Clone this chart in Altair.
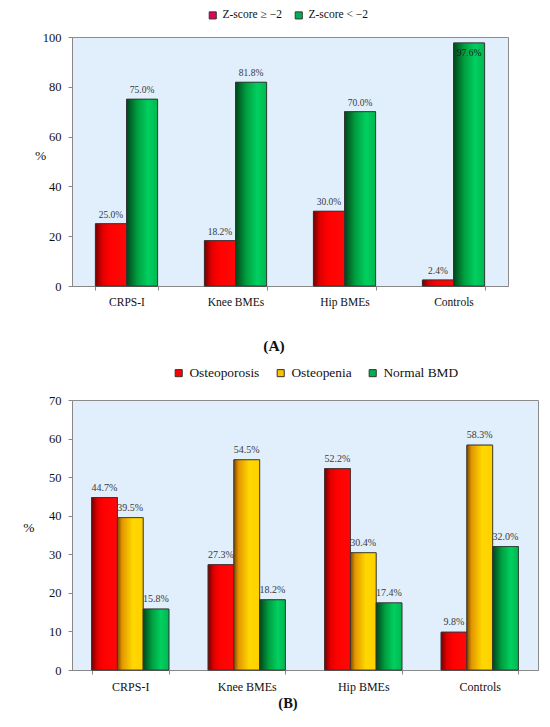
import altair as alt
import pandas as pd

categories = ["CRPS-I", "Knee BMEs", "Hip BMEs", "Controls"]

# Panel A
a_series = ["Z-score \u2265 \u22122", "Z-score < \u22122"]
a_zge2 = [25.0, 18.2, 30.0, 2.4]
a_zlt2 = [75.0, 81.8, 70.0, 97.6]
a_ticks = [0, 20, 40, 60, 80, 100]

# Panel B
b_series = ["Osteoporosis", "Osteopenia", "Normal BMD"]
b_osteoporosis = [44.7, 27.3, 52.2, 9.8]
b_osteopenia = [39.5, 54.5, 30.4, 58.3]
b_normal = [15.8, 18.2, 17.4, 32.0]
b_ticks = [0, 10, 20, 30, 40, 50, 60, 70]

FONT = "Liberation Serif"


def make_df(series, arrays):
    rows = []
    for s, arr in zip(series, arrays):
        for c, v in zip(categories, arr):
            rows.append({"category": c, "series": s, "value": v,
                         "label": f"{v:.1f}%"})
    return pd.DataFrame(rows)


def grad(stops):
    return {"gradient": "linear", "x1": 0, "x2": 1, "y1": 0, "y2": 0,
            "stops": [{"offset": o, "color": c} for o, c in stops]}


RED = grad([(0, "#760000"), (0.22, "#E00000"), (0.45, "#FF0000"), (1, "#FF0808")])
GREEN = grad([(0, "#00451A"), (0.35, "#00A040"), (0.7, "#00D060"), (1, "#00B850")])
YELLOW = grad([(0, "#7A4A00"), (0.18, "#E39500"), (0.6, "#FFD800"), (1, "#FFD000")])


def panel(df, series, legend_colors, gradients, width, height, ticks, pin,
          min_extent, title_x, title_y, legend_x, legend_y, legend_font,
          legend_gap, cat_font, cat_pad, val_font, val_dy, title_text,
          title_offset, title_dx, title_size, inside_threshold):
    x = alt.X("category:N", sort=categories,
              scale=alt.Scale(paddingInner=pin, paddingOuter=pin / 2),
              axis=alt.Axis(title=None, labelAngle=0, tickBand="extent",
                            labelFont=FONT, labelFontSize=cat_font,
                            labelColor="#111", tickColor="#888",
                            domainColor="#888", tickSize=4,
                            labelPadding=cat_pad))
    xo = alt.XOffset("series:N", sort=series,
                     scale=alt.Scale(domain=series, paddingInner=0,
                                     paddingOuter=0))
    y = alt.Y("value:Q",
              scale=alt.Scale(domain=[ticks[0], ticks[-1]], nice=False),
              axis=alt.Axis(title="%", titleAngle=0, titleX=title_x,
                            titleY=title_y, titleAlign="center",
                            titleBaseline="middle", titleFont=FONT,
                            titleFontSize=13.5, titleFontWeight="normal",
                            titleColor="#111", values=ticks, grid=False,
                            labelFont=FONT, labelFontSize=12.5,
                            labelColor="#111", tickColor="#888",
                            domainColor="#888", tickSize=4, labelPadding=7,
                            minExtent=min_extent))
    base = alt.Chart(df)
    legend_bars = base.mark_bar(stroke="#333", strokeWidth=0.8).encode(
        x=x, xOffset=xo, y=y,
        color=alt.Color("series:N", sort=series,
                        scale=alt.Scale(domain=series, range=legend_colors),
                        legend=alt.Legend(title=None, orient="none",
                                          direction="horizontal",
                                          legendX=legend_x, legendY=legend_y,
                                          symbolType="square", symbolSize=50,
                                          symbolStrokeColor="#333",
                                          symbolStrokeWidth=1,
                                          labelFont=FONT,
                                          labelFontSize=legend_font,
                                          labelColor="#111",
                                          columnPadding=legend_gap,
                                          labelOffset=4)))
    layers = [legend_bars]
    for s, g in zip(series, gradients):
        layers.append(
            base.transform_filter(alt.datum.series == s)
            .mark_bar(fill=g, stroke="#333", strokeWidth=0.8)
            .encode(x=x, xOffset=xo, y=y))
    layers.append(
        base.transform_filter(alt.datum.value <= inside_threshold)
        .mark_text(baseline="bottom", dy=val_dy, font=FONT,
                   fontSize=val_font, color="#3a3a3a")
        .encode(x=x, xOffset=xo, y=y, text="label:N"))
    layers.append(
        base.transform_filter(alt.datum.value > inside_threshold)
        .mark_text(baseline="top", dy=5, font=FONT, fontSize=val_font,
                   color="#1a1a1a")
        .encode(x=x, xOffset=xo, y=y, text="label:N"))
    return alt.layer(*layers).properties(
        width=width, height=height,
        title=alt.TitleParams(title_text, orient="bottom", anchor="middle",
                              offset=title_offset, dx=title_dx, font=FONT,
                              fontSize=title_size, fontWeight="bold",
                              color="#111"))


df_a = make_df(a_series, [a_zge2, a_zlt2])
df_b = make_df(b_series, [b_osteoporosis, b_osteopenia, b_normal])

chart_a = panel(df_a, a_series, ["#E6005A", "#00B050"], [RED, GREEN],
                436, 249, a_ticks, 0.43, 62.7, -32, 118, 135, -27.7,
                11.5, 11, 11.5, 6, 9.5, -4, "(A)", 31, -16, 15.5, 93)
chart_b = panel(df_b, b_series, ["#FF0000", "#FFC000", "#00B050"],
                [RED, YELLOW, GREEN],
                466, 270, b_ticks, 0.337, 49.3, -43.7, 127, 100, -34,
                13.4, 14, 12, 7, 10, -5, "(B)", 5, -17, 14.5, 1000)

chart = alt.concat(chart_a, chart_b, columns=1, align="none",
                   spacing=10).resolve_scale(
    color="independent", xOffset="independent", x="independent",
    y="independent").properties(padding=0).configure(
    font=FONT).configure_view(
    fill="#E1EEFB", stroke="#8C8C8C", strokeWidth=1)

chart.save("out.html", embed_options={"renderer": "svg", "actions": False})
